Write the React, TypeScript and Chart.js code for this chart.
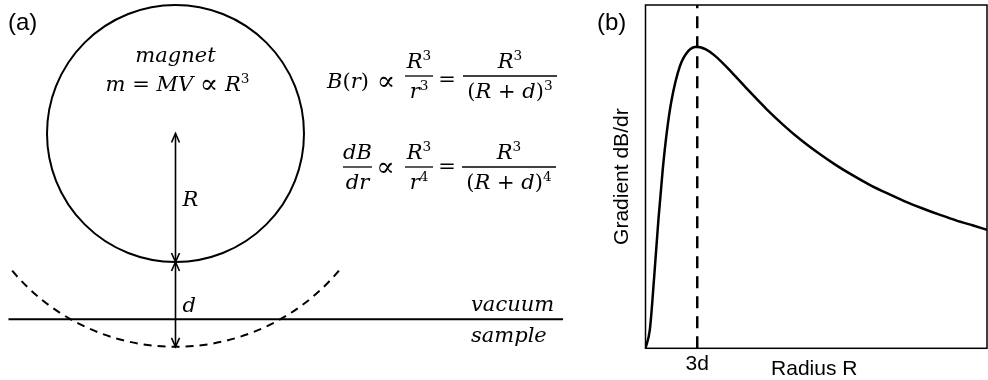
import React, { useEffect, useRef } from 'react';
import { Chart, registerables } from 'chart.js';

Chart.register(...registerables);

// ---------- panel (b): field gradient versus magnet radius ----------
// radius in units of the tip–sample distance d, gradient normalised to its peak
const radiusR = [0, 0.25, 0.5, 0.75, 1, 1.25, 1.5, 2, 2.5, 3, 3.5, 4, 5, 6, 7, 8, 9, 10, 11, 12, 13, 14, 15, 16, 17, 18, 19, 19.8];
const gradient = [
  0, 0.061, 0.234, 0.427, 0.593, 0.723, 0.819, 0.936, 0.987, 1.0, 0.991, 0.971, 0.915, 0.853, 0.794, 0.74, 0.691, 0.648,
  0.609, 0.574, 0.542, 0.514, 0.488, 0.465, 0.444, 0.424, 0.407, 0.393,
];
const peakRadius = [3];
const xTickLabels = ['3d'];
const radiusMax = [19.8];
const gradientMax = [1.138];

// ---------- panel (a): magnet geometry, in units of the magnet radius R ----------
const magnetRadius = [1];
const gapD = [0.66];
const surfaceLevel = [-1.446];
const surfaceSpan = [-1.3, 3.016];
const fieldArcHalfAngleDeg = [50];
const diagramX = [-1.3658, 3.1479];
const diagramY = [-1.9183, 1.0389];

const SANS = '"Liberation Sans", Arial, sans-serif';
const SERIF = '"DejaVu Serif", serif';
const MATH = 21;

type Run = { t: string; it?: boolean; sup?: boolean; big?: boolean };

function setRunFont(ctx: CanvasRenderingContext2D, r: Run, size: number) {
  const s = r.sup ? size * 0.65 : r.big ? size * 1.3 : size;
  ctx.font = `${r.it ? 'italic ' : ''}${s}px ${SERIF}`;
}

function runsWidth(ctx: CanvasRenderingContext2D, runs: Run[], size: number) {
  let w = 0;
  for (const r of runs) {
    setRunFont(ctx, r, size);
    w += ctx.measureText(r.t).width;
  }
  return w;
}

function drawRuns(
  ctx: CanvasRenderingContext2D,
  runs: Run[],
  x: number,
  baseline: number,
  size: number,
  align: 'left' | 'center' = 'left'
) {
  const w = runsWidth(ctx, runs, size);
  let cx = align === 'center' ? x - w / 2 : x;
  ctx.textAlign = 'left';
  ctx.textBaseline = 'alphabetic';
  for (const r of runs) {
    setRunFont(ctx, r, size);
    const dy = r.sup ? -size * 0.38 : r.big ? size * 0.08 : 0;
    ctx.fillText(r.t, cx, baseline + dy);
    cx += ctx.measureText(r.t).width;
  }
}

function drawFrac(
  ctx: CanvasRenderingContext2D,
  num: Run[],
  den: Run[],
  cx: number,
  barY: number,
  barW: number,
  size: number
) {
  drawRuns(ctx, num, cx, barY - 8.5, size, 'center');
  drawRuns(ctx, den, cx, barY + 22, size, 'center');
  ctx.beginPath();
  ctx.lineWidth = 1.3;
  ctx.moveTo(cx - barW / 2, barY);
  ctx.lineTo(cx + barW / 2, barY);
  ctx.stroke();
}

function arrowHead(ctx: CanvasRenderingContext2D, x: number, y: number, dir: number) {
  ctx.beginPath();
  ctx.lineWidth = 1.6;
  ctx.moveTo(x - 4, y - dir * 9);
  ctx.lineTo(x, y);
  ctx.lineTo(x + 4, y - dir * 9);
  ctx.stroke();
}

const R3: Run[] = [{ t: 'R', it: true }, { t: '3', sup: true }];
const Rd3: Run[] = [{ t: '(' }, { t: 'R', it: true }, { t: ' + ' }, { t: 'd', it: true }, { t: ')' }, { t: '3', sup: true }];
const Rd4: Run[] = [{ t: '(' }, { t: 'R', it: true }, { t: ' + ' }, { t: 'd', it: true }, { t: ')' }, { t: '4', sup: true }];
const PROP: Run[] = [{ t: '∝', big: true }];

const diagramPlugin = {
  id: 'magnetDiagram',
  afterDatasetsDraw(chart: any) {
    const { ctx } = chart;
    const xs = chart.scales.x;
    const ys = chart.scales.y;
    const px = (v: number) => xs.getPixelForValue(v);
    const py = (v: number) => ys.getPixelForValue(v);
    const cx = px(0);
    const cy = py(0);
    const unit = px(1) - px(0);
    ctx.save();
    ctx.strokeStyle = '#000';
    ctx.fillStyle = '#000';

    // magnet sphere
    ctx.lineWidth = 2;
    ctx.beginPath();
    ctx.arc(cx, cy, magnetRadius[0] * unit, 0, Math.PI * 2);
    ctx.stroke();

    // dashed reach of radius R + d
    const half = (fieldArcHalfAngleDeg[0] * Math.PI) / 180;
    ctx.setLineDash([8, 6]);
    ctx.beginPath();
    ctx.arc(cx, cy, (magnetRadius[0] + gapD[0]) * unit, Math.PI / 2 - half, Math.PI / 2 + half);
    ctx.stroke();
    ctx.setLineDash([]);

    // arrow heads on R and d
    const yR = py(-magnetRadius[0]);
    const yD = py(-magnetRadius[0] - gapD[0]);
    arrowHead(ctx, cx, cy, -1);
    arrowHead(ctx, cx, yR, 1);
    arrowHead(ctx, cx, yR, -1);
    arrowHead(ctx, cx, yD, 1);

    // labels
    drawRuns(ctx, [{ t: 'R', it: true }], cx + 7, (cy + yR) / 2 + 8, MATH);
    drawRuns(ctx, [{ t: 'd', it: true }], cx + 7, (yR + yD) / 2 + 8, MATH);
    drawRuns(ctx, [{ t: 'magnet', it: true }], cx, 62, MATH, 'center');
    drawRuns(
      ctx,
      [{ t: 'm', it: true }, { t: ' = ' }, { t: 'MV', it: true }, { t: ' ' }, { t: '∝', big: true }, { t: ' ' }, { t: 'R', it: true }, { t: '3', sup: true }],
      cx + 2,
      91,
      MATH,
      'center'
    );
    const ySurf = py(surfaceLevel[0]);
    drawRuns(ctx, [{ t: 'vacuum', it: true }], 471, ySurf - 8, MATH);
    drawRuns(ctx, [{ t: 'sample', it: true }], 471, ySurf + 23, MATH);

    // field relations
    drawRuns(ctx, [{ t: 'B', it: true }, { t: '(' }, { t: 'r', it: true }, { t: ')' }], 327, 88, MATH);
    drawRuns(ctx, PROP, 386, 88, MATH, 'center');
    drawFrac(ctx, R3, [{ t: 'r', it: true }, { t: '3', sup: true }], 419, 76, 28, MATH);
    drawRuns(ctx, [{ t: '=' }], 447, 86, MATH, 'center');
    drawFrac(ctx, R3, Rd3, 510, 76, 94, MATH);

    drawFrac(ctx, [{ t: 'dB', it: true }], [{ t: 'dr', it: true }], 357.5, 167, 29, MATH);
    drawRuns(ctx, PROP, 385.5, 174, MATH, 'center');
    drawFrac(ctx, R3, [{ t: 'r', it: true }, { t: '4', sup: true }], 419, 167, 28, MATH);
    drawRuns(ctx, [{ t: '=' }], 447, 173, MATH, 'center');
    drawFrac(ctx, R3, Rd4, 509, 167, 94, MATH);

    // panel tag
    ctx.font = `24px ${SANS}`;
    ctx.textAlign = 'left';
    ctx.fillText('(a)', 8, 30);
    ctx.restore();
  },
};

const gradientPlugin = {
  id: 'gradientFrame',
  afterDraw(chart: any) {
    const { ctx, chartArea: a } = chart;
    const xs = chart.scales.x;
    ctx.save();
    ctx.strokeStyle = '#000';
    ctx.fillStyle = '#000';
    ctx.lineWidth = 1.5;
    ctx.strokeRect(a.left, a.top, a.right - a.left, a.bottom - a.top);

    ctx.font = `21px ${SANS}`;
    ctx.textAlign = 'center';
    ctx.textBaseline = 'alphabetic';
    peakRadius.forEach((v, i) => ctx.fillText(xTickLabels[i], xs.getPixelForValue(v), a.bottom + 22));
    ctx.fillText('Radius R', (a.left + a.right) / 2 - 2, a.bottom + 27);

    ctx.save();
    ctx.translate(a.left - 17.5, (a.top + a.bottom) / 2);
    ctx.rotate(-Math.PI / 2);
    ctx.fillText('Gradient dB/dr', 0, 0);
    ctx.restore();

    ctx.font = `24px ${SANS}`;
    ctx.textAlign = 'left';
    ctx.fillText('(b)', a.left - 48.5, 30);
    ctx.restore();
  },
};

function MagnetDiagram() {
  const ref = useRef<HTMLCanvasElement>(null);
  useEffect(() => {
    const surface = surfaceSpan.map((x) => ({ x, y: surfaceLevel[0] }));
    const rArrow = [
      { x: 0, y: 0 },
      { x: 0, y: -magnetRadius[0] },
    ];
    const dArrow = [
      { x: 0, y: -magnetRadius[0] },
      { x: 0, y: -magnetRadius[0] - gapD[0] },
    ];
    const line = { showLine: true, borderColor: '#000', borderWidth: 2, pointRadius: 0 };
    const chart = new Chart(ref.current!, {
      type: 'scatter',
      data: {
        datasets: [
          { ...line, label: 'surface', data: surface },
          { ...line, label: 'R', data: rArrow, borderWidth: 1.6 },
          { ...line, label: 'd', data: dArrow, borderWidth: 1.6 },
        ],
      },
      options: {
        animation: false,
        responsive: false,
        events: [],
        layout: { padding: 0 },
        plugins: { legend: { display: false }, tooltip: { enabled: false } },
        scales: {
          x: { type: 'linear', display: false, min: diagramX[0], max: diagramX[1] },
          y: { type: 'linear', display: false, min: diagramY[0], max: diagramY[1] },
        },
      },
      plugins: [diagramPlugin],
    });
    return () => chart.destroy();
  }, []);
  return <canvas ref={ref} width={580} height={380} style={{ position: 'absolute', left: 0, top: 0 }} />;
}

function GradientChart() {
  const ref = useRef<HTMLCanvasElement>(null);
  useEffect(() => {
    const chart = new Chart(ref.current!, {
      type: 'scatter',
      data: {
        datasets: [
          {
            label: 'dB/dr',
            data: radiusR.map((x, i) => ({ x, y: gradient[i] })),
            showLine: true,
            borderColor: '#000',
            borderWidth: 2.5,
            pointRadius: 0,
            cubicInterpolationMode: 'monotone',
          },
          {
            label: '3d',
            data: [
              { x: peakRadius[0], y: 0 },
              { x: peakRadius[0], y: gradientMax[0] },
            ],
            showLine: true,
            borderColor: '#000',
            borderWidth: 2.5,
            borderDash: [12, 8],
            pointRadius: 0,
          },
        ],
      },
      options: {
        animation: false,
        responsive: false,
        events: [],
        layout: { padding: { left: 65.5, top: 5, right: 1, bottom: 31.7 } },
        plugins: { legend: { display: false }, tooltip: { enabled: false } },
        scales: {
          x: { type: 'linear', display: false, min: 0, max: radiusMax[0] },
          y: { type: 'linear', display: false, min: 0, max: gradientMax[0] },
        },
      },
      plugins: [gradientPlugin],
    });
    return () => chart.destroy();
  }, []);
  return <canvas ref={ref} width={408} height={380} style={{ position: 'absolute', left: 580, top: 0 }} />;
}

export default function App() {
  return (
    <div style={{ position: 'fixed', left: 0, top: 0, width: 988, height: 380, background: '#fff', overflow: 'hidden' }}>
      <MagnetDiagram />
      <GradientChart />
    </div>
  );
}
